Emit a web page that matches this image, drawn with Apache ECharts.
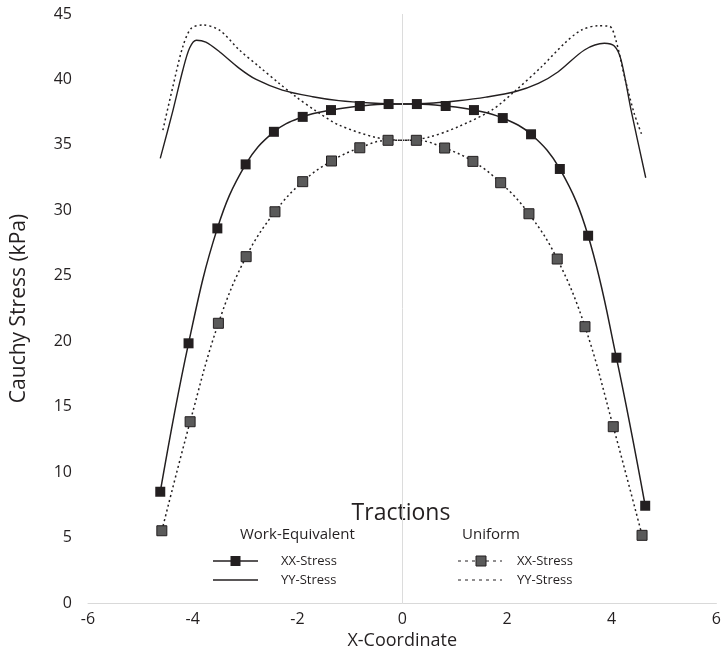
<!DOCTYPE html>
<html><head><meta charset="utf-8">
<script src="https://cdn.jsdelivr.net/npm/echarts@6/dist/echarts.min.js"></script>
<style>html,body{margin:0;padding:0;background:#fff}#c{width:724px;height:657px}</style>
</head><body><div id="c"></div>
<script>
// ---- data ----
const xxWorkX = [-4.62,-4.08,-3.53,-2.99,-2.45,-1.90,-1.36,-0.81,-0.26,0.28,0.83,1.37,1.92,2.46,3.01,3.55,4.09,4.64];
const xxWorkY = [8.5,19.84,28.62,33.51,36.0,37.14,37.66,37.97,38.12,38.12,37.97,37.66,37.05,35.81,33.16,28.06,18.74,7.43];

const xxUnifX = [-4.59,-4.05,-3.51,-2.98,-2.43,-1.90,-1.35,-0.81,-0.27,0.27,0.81,1.35,1.88,2.42,2.96,3.49,4.03,4.58];
const xxUnifY = [5.52,13.85,21.37,26.46,29.89,32.19,33.77,34.78,35.35,35.35,34.76,33.74,32.11,29.74,26.28,21.11,13.47,5.17];

const yyWorkX = [-4.62,-4.38,-4.19,-4.06,-3.93,-3.75,-3.49,-3.11,-2.79,-2.29,-1.71,-1.21,-0.60,0,0.60,1.07,1.60,2.15,2.60,2.98,3.48,3.86,4.05,4.18,4.37,4.65];
const yyWorkY = [33.97,37.6,40.7,42.4,43.0,42.85,42.12,40.85,40.0,39.19,38.68,38.38,38.2,38.12,38.2,38.37,38.65,39.06,39.7,40.59,42.25,42.76,42.55,41.48,37.66,32.49];

const yyUnifX = [-4.57,-4.38,-4.19,-4.03,-3.81,-3.49,-3.11,-2.73,-2.35,-2.03,-1.65,-1.21,-0.51,0,0.50,1.07,1.71,2.15,2.66,3.10,3.42,3.74,3.96,4.08,4.24,4.43,4.59];
const yyUnifY = [36.13,39.44,42.5,43.9,44.16,43.77,42.25,40.97,39.7,38.68,37.6,36.52,35.58,35.35,35.58,36.39,37.66,39.1,40.97,42.76,43.77,44.1,44.06,43.0,40.3,37.4,35.62];

const xRange = [-6, 6, 2];
const yRange = [0, 45, 5];

const titleText = 'Tractions';
const groupNames = ['Work-Equivalent', 'Uniform'];
const seriesNames = ['XX-Stress', 'YY-Stress'];

// ---- build ----
const zip = (xs, ys) => xs.map((x, i) => [x, ys[i]]);
const INK = '#231f20';
const GRAY = '#5a5a5a';
const FONT = 'Open Sans';

const chart = echarts.init(document.getElementById('c'));
const graphic = [];
graphic.push({type:'text', x:401, y:513, style:{text:titleText, font:'23px "Open Sans"', fill:INK, textAlign:'center', verticalAlign:'middle'}});
graphic.push({type:'text', x:240, y:535, style:{text:groupNames[0], font:'15px "Open Sans"', fill:INK, verticalAlign:'middle'}});
graphic.push({type:'text', x:462, y:535, style:{text:groupNames[1], font:'15px "Open Sans"', fill:INK, verticalAlign:'middle'}});
// legend glyphs
graphic.push({type:'line', shape:{x1:213,y1:561,x2:258,y2:561}, style:{stroke:INK, lineWidth:1.5}});
graphic.push({type:'rect', shape:{x:230.5,y:556,width:10,height:10}, style:{fill:INK}});
graphic.push({type:'line', shape:{x1:213,y1:580,x2:258,y2:580}, style:{stroke:INK, lineWidth:1.5}});
graphic.push({type:'line', shape:{x1:458,y1:561,x2:502,y2:561}, style:{stroke:INK, lineWidth:1, lineDash:[3,4]}});
graphic.push({type:'rect', shape:{x:476,y:556,width:10,height:10}, style:{fill:GRAY, stroke:INK, lineWidth:1}});
graphic.push({type:'line', shape:{x1:458,y1:580,x2:502,y2:580}, style:{stroke:INK, lineWidth:1, lineDash:[3,4]}});
[[281,561,0],[281,580,1],[517,561,0],[517,580,1]].forEach(([x,y,k]) => {
  graphic.push({type:'text', x:x, y:y, style:{text:seriesNames[k], font:'13px "Open Sans"', fill:INK, verticalAlign:'middle'}});
});

chart.setOption({
  animation:false,
  backgroundColor:'#fff',
  textStyle:{fontFamily:FONT},
  grid:{left:88, right:5, top:14, bottom:54},
  xAxis:{
    type:'value', min:xRange[0], max:xRange[1], interval:xRange[2],
    name:'X-Coordinate', nameLocation:'middle', nameGap:24,
    nameTextStyle:{fontSize:18, color:INK, fontFamily:FONT},
    axisLine:{show:true, lineStyle:{color:'#d9d9d9', width:1}},
    axisTick:{show:false},
    axisLabel:{fontSize:16, color:INK, margin:8, fontFamily:FONT},
    splitLine:{show:false}
  },
  yAxis:{
    type:'value', min:yRange[0], max:yRange[1], interval:yRange[2],
    name:'Cauchy Stress (kPa)', nameLocation:'middle', nameGap:58,
    nameTextStyle:{fontSize:21, color:INK, fontFamily:FONT},
    axisLine:{show:false}, axisTick:{show:false},
    axisLabel:{fontSize:16, color:INK, margin:16, fontFamily:FONT},
    splitLine:{show:false}
  },
  graphic:graphic,
  series:[
    {name:'YY Work', type:'line', data:zip(yyWorkX, yyWorkY), smooth:0.3, showSymbol:false, symbol:'none',
     lineStyle:{color:INK, width:1.4}, z:2,
     markLine:{silent:true, symbol:'none', label:{show:false}, animation:false,
       lineStyle:{color:'#dcdcdc', width:1, type:'solid'}, data:[{xAxis:0}]}},
    {name:'YY Uniform', type:'line', data:zip(yyUnifX, yyUnifY), smooth:0.3, showSymbol:false, symbol:'none',
     lineStyle:{color:INK, width:1.5, type:[2,3]}, z:2},
    {name:'XX Uniform', type:'line', data:zip(xxUnifX, xxUnifY), smooth:0.4, symbol:'rect', symbolSize:10,
     itemStyle:{color:GRAY, borderColor:INK, borderWidth:1}, lineStyle:{color:INK, width:1.5, type:[2,3]}, z:3},
    {name:'XX Work', type:'line', data:zip(xxWorkX, xxWorkY), smooth:0.4, symbol:'rect', symbolSize:10,
     itemStyle:{color:INK}, lineStyle:{color:INK, width:1.5}, z:4}
  ]
});
</script></body></html>
